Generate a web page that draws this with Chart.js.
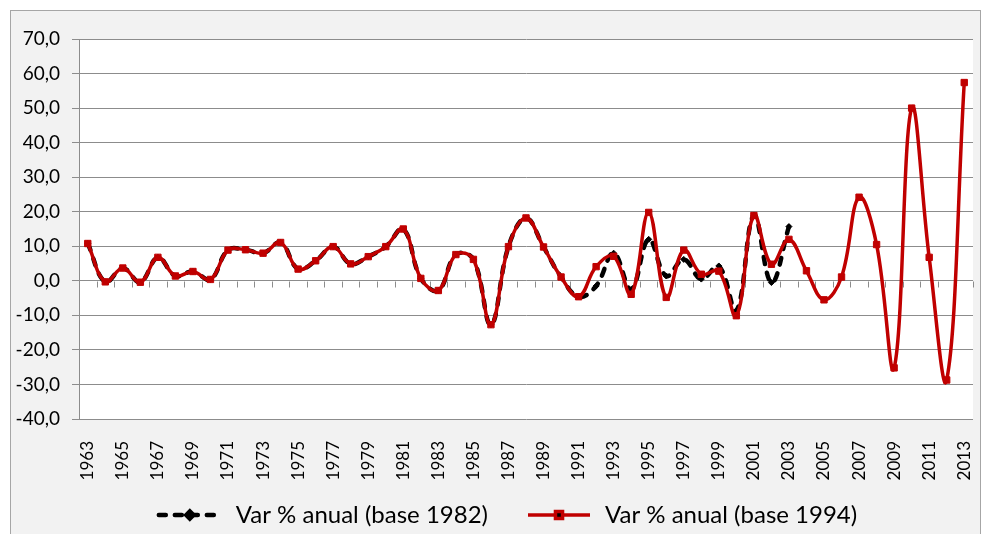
<!DOCTYPE html>
<html>
<head>
<meta charset="utf-8">
<script src="https://cdn.jsdelivr.net/npm/chart.js@4.4.1/dist/chart.umd.min.js"></script>
<style>
  html, body { margin: 0; padding: 0; background: #fff; }
</style>
</head>
<body>
<canvas id="chart" width="982" height="534"></canvas>
<script>
const years = [
  '1963', '1964', '1965', '1966', '1967', '1968', '1969', '1970', '1971', '1972',
  '1973', '1974', '1975', '1976', '1977', '1978', '1979', '1980', '1981', '1982',
  '1983', '1984', '1985', '1986', '1987', '1988', '1989', '1990', '1991', '1992',
  '1993', '1994', '1995', '1996', '1997', '1998', '1999', '2000', '2001', '2002',
  '2003', '2004', '2005', '2006', '2007', '2008', '2009', '2010', '2011', '2012',
  '2013',
];

// Var % anual (base 1982), 1963-2003
const base1982 = [
  10.8, -0.3, 3.7, -0.4, 6.8, 1.4, 2.7, 0.4, 8.9, 9.0,
  8.0, 11.1, 3.4, 5.8, 9.9, 4.9, 7.0, 9.9, 15.0, 0.7,
  -2.8, 7.6, 6.2, -12.7, 9.9, 18.2, 9.8, 1.1, -4.6, -1.5,
  8.0, -2.5, 12.0, 1.4, 6.2, 0.5, 4.3, -8.7, 19.0, -0.5,
  15.7, null, null, null, null, null, null, null, null, null,
  null,
];

// Var % anual (base 1994), 1963-2013
const base1994 = [
  10.8, -0.3, 3.7, -0.4, 6.8, 1.4, 2.7, 0.4, 8.9, 9.0,
  8.0, 11.1, 3.4, 5.8, 9.9, 4.9, 7.0, 9.9, 15.0, 0.7,
  -2.8, 7.6, 6.2, -12.7, 9.9, 18.2, 9.8, 1.1, -4.6, 4.1,
  7.1, -3.9, 19.8, -4.8, 8.9, 1.9, 2.8, -10.1, 18.9, 4.8,
  12.0, 2.9, -5.5, 1.1, 24.2, 10.5, -25.2, 50.0, 6.8, -28.7,
  57.4,
];

const seriesNames = ['Var % anual (base 1982)', 'Var % anual (base 1994)'];

const FONT = 'Lato, "Open Sans", sans-serif';
const GRID = '#8c8c8c';

function legendSymbol(ctx, ds, x, y, w) {
  ctx.save();
  ctx.strokeStyle = ds.borderColor;
  ctx.lineWidth = ds.borderWidth;
  ctx.lineCap = ds.borderCapStyle || 'butt';
  ctx.setLineDash(ds.borderDash || []);
  ctx.beginPath();
  ctx.moveTo(x, y);
  ctx.lineTo(x + w, y);
  ctx.stroke();
  ctx.setLineDash([]);
  Chart.helpers.drawPoint(ctx, {
    pointStyle: ds.pointStyle,
    radius: ds.pointRadius + 0.5,
    borderWidth: 1,
  }, x + w / 2, y);
  ctx.restore();
}

const frame = {
  id: 'frame',
  beforeDraw(chart) {
    const { ctx, chartArea: a, width, height } = chart;
    ctx.save();
    ctx.fillStyle = '#fff';
    ctx.fillRect(0, 0, width, height);
    ctx.fillStyle = '#f2f2f2';
    ctx.fillRect(10, 10, width - 12, height - 10);
    ctx.strokeStyle = '#a6a6a6';
    ctx.lineWidth = 1;
    ctx.strokeRect(10.5, 10.5, width - 12, height);
    ctx.fillStyle = '#fff';
    ctx.fillRect(a.left, a.top, a.right - a.left, a.bottom - a.top);
    ctx.restore();
  },
  beforeDatasetsDraw(chart) {
    // tick marks hanging under the zero line, one per category boundary
    const { ctx } = chart;
    const xs = chart.scales.x;
    const y0 = Math.round(chart.scales.y.getPixelForValue(0)) + 0.5;
    ctx.save();
    ctx.strokeStyle = GRID;
    ctx.lineWidth = 1;
    ctx.beginPath();
    for (let i = 0; i <= years.length; i++) {
      const px = Math.round(xs.getPixelForValue(i - 0.5)) + 0.5;
      ctx.moveTo(px, y0);
      ctx.lineTo(px, y0 + 6);
    }
    ctx.stroke();
    ctx.restore();
  },
  afterDraw(chart) {
    const { ctx } = chart;
    const order = [1, 0]; // base 1982 first, as in the original legend
    const symW = 62;
    const gap = 15;
    const itemGap = 40;
    ctx.save();
    ctx.font = '24px ' + FONT;
    ctx.textBaseline = 'middle';
    ctx.fillStyle = '#000';
    const widths = order.map((i) => ctx.measureText(chart.data.datasets[i].label).width);
    const total = widths.reduce((s, w) => s + symW + gap + w, 0) + itemGap;
    let x = 508 - total / 2;
    const y = 515;
    order.forEach((i, k) => {
      const ds = chart.data.datasets[i];
      legendSymbol(ctx, ds, x, y, symW);
      x += symW + gap;
      ctx.fillText(ds.label, x, y);
      x += widths[k] + itemGap;
    });
    ctx.restore();
  },
};

const ctx = document.getElementById('chart').getContext('2d');
const chart = new Chart(ctx, {
  type: 'line',
  data: {
    labels: years,
    datasets: [
      {
        label: seriesNames[1],
        data: base1994,
        borderColor: '#c00000',
        backgroundColor: '#c00000',
        borderWidth: 3.5,
        pointStyle: 'rect',
        pointRadius: 4.5,
        pointBorderWidth: 1,
        tension: 0.4,
        order: 0,
      },
      {
        label: seriesNames[0],
        data: base1982,
        borderColor: '#000',
        backgroundColor: '#000',
        borderWidth: 4.5,
        borderDash: [7, 9],
        borderCapStyle: 'round',
        pointStyle: 'rectRot',
        pointRadius: 3,
        pointBorderWidth: 1,
        tension: 0.4,
        order: 1,
      },
    ],
  },
  options: {
    responsive: false,
    animation: false,
    devicePixelRatio: 1,
    layout: { padding: { top: 39, right: 9, left: 0, bottom: 50 } },
    plugins: {
      legend: { display: false },
      tooltip: { enabled: false },
    },
    scales: {
      x: {
        offset: true,
        grid: { display: false },
        border: { display: false },
        ticks: {
          autoSkip: false,
          maxRotation: 90,
          minRotation: 90,
          padding: 14,
          color: '#000',
          font: { family: FONT, size: 17 },
          callback: (v, i) => (i % 2 === 0 ? years[i] : ''),
        },
        afterFit(scale) {
          scale.height = 65;
          scale.paddingLeft = 0;
          scale.paddingRight = 0;
        },
      },
      y: {
        min: -40,
        max: 70,
        ticks: {
          stepSize: 10,
          padding: 12,
          color: '#000',
          font: { family: FONT, size: 19 },
          callback: (v) => v.toFixed(1).replace('.', ','),
        },
        grid: { color: GRID, tickLength: 7 },
        border: { display: true, color: GRID },
        afterFit(scale) { scale.width = 79; },
      },
    },
  },
  plugins: [frame],
});
</script>
</body>
</html>
